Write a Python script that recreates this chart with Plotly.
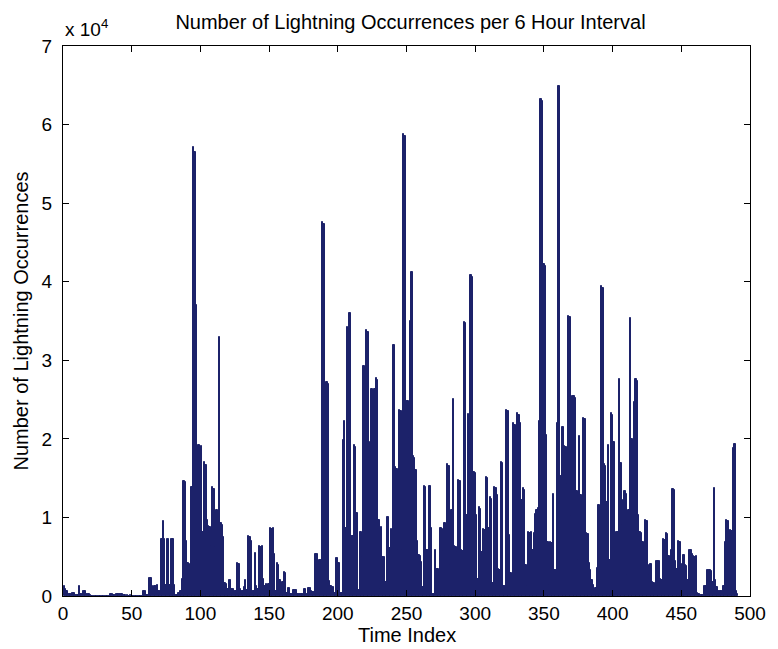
import plotly.graph_objects as go

# Lightning counts per 6-hour interval, time index 1..491
counts_001_100 = [
    1300, 950, 600, 200, 200, 200, 420, 420, 170, 170,
    170, 1230, 200, 200, 640, 640, 200, 200, 200, 170,
    50, 30, 60, 40, 0, 50, 30, 20, 60, 40,
    30, 50, 0, 0, 300, 300, 80, 80, 300, 300,
    300, 300, 300, 80, 80, 60, 80, 60, 70, 50,
    50, 40, 60, 30, 50, 40, 60, 50, 640, 640,
    170, 170, 2330, 2330, 1270, 200, 1270, 1270, 1350, 700,
    700, 7200, 9600, 7200, 1350, 7200, 7200, 1350, 7200, 7200,
    1350, 170, 170, 340, 340, 600, 2200, 14700, 14500, 7000,
    4200, 4100, 4000, 13900, 57200, 56500, 37000, 4600, 19200, 18900,
]
counts_101_200 = [
    19100, 8100, 17000, 16700, 9700, 8900, 8800, 6400, 13900, 13600,
    6200, 10900, 10800, 33000, 9300, 9100, 7500, 1600, 1500, 900,
    2100, 2000, 900, 850, 600, 600, 4200, 4100, 900, 600,
    600, 1100, 2000, 800, 7700, 7500, 7000, 600, 600, 5500,
    1300, 900, 6400, 6300, 6400, 2200, 1300, 1500, 1000, 1500,
    8600, 8500, 8600, 5300, 600, 4200, 4000, 2100, 500, 1800,
    3000, 2900, 400, 1000, 1000, 300, 300, 800, 800, 800,
    200, 200, 200, 200, 200, 900, 300, 300, 1000, 1000,
    700, 500, 500, 5400, 5400, 900, 4600, 4600, 47600, 47400,
    17400, 27200, 27000, 1900, 1300, 1100, 1100, 400, 4800, 4800,
]
counts_201_300 = [
    4200, 400, 400, 19800, 22300, 8600, 34300, 34000, 36000, 7600,
    7600, 19200, 19000, 10600, 760, 760, 8200, 5000, 29300, 29000,
    33900, 33600, 17600, 19600, 26400, 26200, 26400, 27800, 27500, 9700,
    900, 8800, 5000, 5000, 1800, 10100, 10000, 6100, 8500, 8400,
    31900, 16400, 16200, 5800, 23700, 23500, 5800, 58800, 58600, 24800,
    24800, 20100, 35000, 41300, 17800, 17600, 16000, 7000, 5200, 5100,
    4300, 1100, 14000, 13900, 5900, 5800, 14000, 8600, 300, 300,
    5800, 3500, 3400, 2500, 8600, 8500, 5700, 9300, 9200, 16800,
    16600, 3900, 10900, 25100, 6400, 6300, 5600, 14800, 14600, 5800,
    5700, 34900, 34700, 10300, 23200, 23000, 40800, 40600, 15800, 15600,
]
counts_301_400 = [
    10300, 2200, 11300, 11100, 5600, 8500, 8400, 15200, 15000, 8600,
    12600, 12400, 1700, 13900, 13700, 12800, 3400, 3300, 17100, 16900,
    1300, 1300, 23700, 23500, 7800, 2900, 2800, 22000, 21800, 4500,
    23300, 23100, 22000, 12200, 13700, 13500, 3900, 1300, 8100, 8000,
    8100, 5800, 8000, 10500, 11000, 11200, 22300, 63300, 63000, 42200,
    42000, 20500, 6900, 1400, 6900, 6800, 13000, 3300, 3300, 22000,
    64900, 15300, 15300, 21500, 19100, 19000, 14300, 35700, 35500, 10200,
    25400, 25400, 25200, 13400, 4600, 20400, 12900, 5400, 22700, 22500,
    8000, 7900, 4200, 3300, 2000, 1400, 700, 1000, 3600, 11600,
    11500, 39400, 39200, 16800, 16600, 12000, 19200, 4600, 23300, 23100,
]
counts_401_491 = [
    19600, 5600, 8200, 8100, 27600, 16900, 9100, 12200, 13400, 13000,
    2700, 11000, 35400, 20000, 19800, 24700, 27600, 27400, 10300, 8100,
    8000, 6900, 5200, 9700, 9600, 3900, 2700, 4100, 1800, 1700,
    600, 4500, 4400, 4400, 2200, 2100, 7200, 7100, 8000, 7900,
    5100, 3700, 5800, 13600, 13500, 4500, 3400, 7000, 6900, 4100,
    2100, 5200, 3900, 3800, 2100, 5900, 5800, 5400, 5100, 5000,
    5100, 400, 200, 150, 150, 150, 1300, 1300, 3300, 3300,
    3300, 3200, 1800, 13800, 2100, 1100, 600, 600, 700, 700,
    1300, 6900, 9700, 9600, 7200, 8400, 8300, 18800, 19400, 700,
    200,
]

counts = counts_001_100 + counts_101_200 + counts_201_300 + counts_301_400 + counts_401_491
time_index = list(range(1, len(counts) + 1))

x_ticks = list(range(0, 501, 50))
y_ticks = [k * 10000 for k in range(0, 8)]
y_tick_text = [str(k) for k in range(0, 8)]

NAVY = "#1c226a"
FONT = "Liberation Sans, Arial, sans-serif"

fig = go.Figure(
    go.Bar(
        x=time_index,
        y=counts,
        width=1.0,
        marker=dict(color=NAVY, line=dict(color=NAVY, width=1.0)),
        hoverinfo="x+y",
    )
)

axis_common = dict(
    showline=True,
    linecolor="black",
    linewidth=1,
    mirror="ticks",
    ticks="inside",
    ticklen=6,
    tickwidth=1,
    tickcolor="black",
    showgrid=False,
    zeroline=False,
    tickfont=dict(family=FONT, size=19, color="black"),
)

fig.update_layout(
    width=778,
    height=649,
    margin=dict(l=63, r=20, t=46, b=53),
    paper_bgcolor="white",
    plot_bgcolor="white",
    showlegend=False,
    bargap=0,
    title=dict(
        text="Number of Lightning Occurrences per 6 Hour Interval",
        font=dict(family=FONT, size=20, color="black"),
        x=(63 + 758) / 2 / 778,
        xanchor="center",
        y=1 - 22 / 649,
        yanchor="middle",
    ),
    xaxis=dict(axis_common, range=[0, 500], tickvals=x_ticks, ticklabelstandoff=0),
    yaxis=dict(axis_common, range=[0, 70000], tickvals=y_ticks, ticktext=y_tick_text,
               ticklabelstandoff=6),
    annotations=[
        dict(text="Time Index", xref="paper", yref="paper", x=0.5, y=-(635 - 596) / 550,
             xanchor="center", yanchor="middle", showarrow=False,
             font=dict(family=FONT, size=20, color="black")),
        dict(text="Number of Lightning Occurrences", xref="paper", yref="paper",
             x=-(63 - 21) / 695, y=0.5, textangle=-90, xanchor="center", yanchor="middle",
             showarrow=False, font=dict(family=FONT, size=20, color="black")),
        dict(text="x 10<sup>4</sup>", xref="paper", yref="paper", x=0, y=1 + (46 - 28) / 550,
             xanchor="left", yanchor="middle", showarrow=False,
             font=dict(family=FONT, size=19, color="black")),
    ],
)

fig.write_html("out.html")
